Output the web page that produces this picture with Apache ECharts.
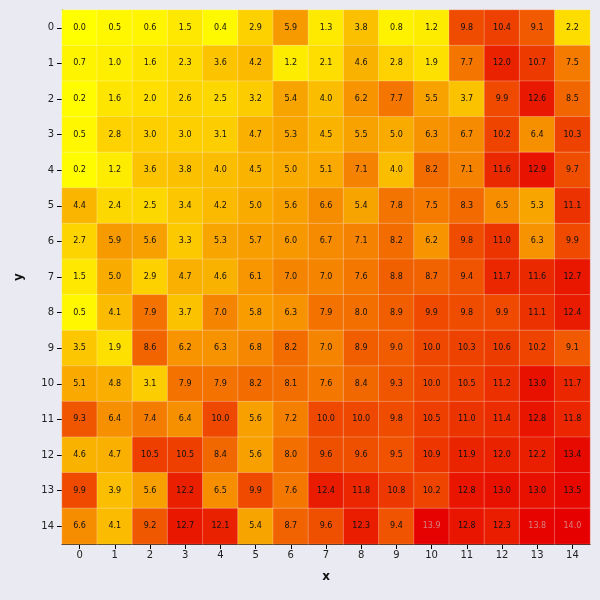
<!DOCTYPE html>
<html>
<head>
<meta charset="utf-8">
<script src="https://cdn.jsdelivr.net/npm/echarts@6/dist/echarts.min.js"></script>
<style>
    html, body { margin: 0; padding: 0; background: #eaeaf2; }
    #main { width: 600px; height: 600px; }
</style>
</head>
<body>
<div id="main"></div>
<script type="text/javascript">
    var xLabels = ['0','1','2','3','4','5','6','7','8','9','10','11','12','13','14'];
    var yLabels = ['0','1','2','3','4','5','6','7','8','9','10','11','12','13','14'];

    // one row per y value, columns follow x
    var row0  = [0.0, 0.5, 0.6, 1.5, 0.4, 2.9, 5.9, 1.3, 3.8, 0.8, 1.2, 9.8, 10.4, 9.1, 2.2];
    var row1  = [0.7, 1.0, 1.6, 2.3, 3.6, 4.2, 1.2, 2.1, 4.6, 2.8, 1.9, 7.7, 12.0, 10.7, 7.5];
    var row2  = [0.2, 1.6, 2.0, 2.6, 2.5, 3.2, 5.4, 4.0, 6.2, 7.7, 5.5, 3.7, 9.9, 12.6, 8.5];
    var row3  = [0.5, 2.8, 3.0, 3.0, 3.1, 4.7, 5.3, 4.5, 5.5, 5.0, 6.3, 6.7, 10.2, 6.4, 10.3];
    var row4  = [0.2, 1.2, 3.6, 3.8, 4.0, 4.5, 5.0, 5.1, 7.1, 4.0, 8.2, 7.1, 11.6, 12.9, 9.7];
    var row5  = [4.4, 2.4, 2.5, 3.4, 4.2, 5.0, 5.6, 6.6, 5.4, 7.8, 7.5, 8.3, 6.5, 5.3, 11.1];
    var row6  = [2.7, 5.9, 5.6, 3.3, 5.3, 5.7, 6.0, 6.7, 7.1, 8.2, 6.2, 9.8, 11.0, 6.3, 9.9];
    var row7  = [1.5, 5.0, 2.9, 4.7, 4.6, 6.1, 7.0, 7.0, 7.6, 8.8, 8.7, 9.4, 11.7, 11.6, 12.7];
    var row8  = [0.5, 4.1, 7.9, 3.7, 7.0, 5.8, 6.3, 7.9, 8.0, 8.9, 9.9, 9.8, 9.9, 11.1, 12.4];
    var row9  = [3.5, 1.9, 8.6, 6.2, 6.3, 6.8, 8.2, 7.0, 8.9, 9.0, 10.0, 10.3, 10.6, 10.2, 9.1];
    var row10 = [5.1, 4.8, 3.1, 7.9, 7.9, 8.2, 8.1, 7.6, 8.4, 9.3, 10.0, 10.5, 11.2, 13.0, 11.7];
    var row11 = [9.3, 6.4, 7.4, 6.4, 10.0, 5.6, 7.2, 10.0, 10.0, 9.8, 10.5, 11.0, 11.4, 12.8, 11.8];
    var row12 = [4.6, 4.7, 10.5, 10.5, 8.4, 5.6, 8.0, 9.6, 9.6, 9.5, 10.9, 11.9, 12.0, 12.2, 13.4];
    var row13 = [9.9, 3.9, 5.6, 12.2, 6.5, 9.9, 7.6, 12.4, 11.8, 10.8, 10.2, 12.8, 13.0, 13.0, 13.5];
    var row14 = [6.6, 4.1, 9.2, 12.7, 12.1, 5.4, 8.7, 9.6, 12.3, 9.4, 13.9, 12.8, 12.3, 13.8, 14.0];

    var rows = [row0, row1, row2, row3, row4, row5, row6, row7, row8, row9, row10, row11, row12, row13, row14];

    var cells = [];
    rows.forEach(function (row, yi) {
        row.forEach(function (v, xi) {
            var item = { value: [xi, yi, v] };
            if (v >= 13.8) {
                item.label = { color: '#d88080' };
            }
            cells.push(item);
        });
    });

    var chart = echarts.init(document.getElementById('main'));

    var option = {
        backgroundColor: '#eaeaf2',
        animation: false,
        grid: { left: 62, top: 10, width: 528, height: 534 },
        xAxis: {
            type: 'category',
            data: xLabels,
            name: 'x',
            nameLocation: 'middle',
            nameGap: 27,
            nameTextStyle: { fontFamily: 'DejaVu Sans', fontSize: 12, fontWeight: 'bold', color: '#111' },
            axisLine: { show: true, lineStyle: { color: '#000', width: 1 } },
            axisTick: { show: true, alignWithLabel: true, length: 5, lineStyle: { color: '#000' } },
            axisLabel: { fontFamily: 'DejaVu Sans', fontSize: 10, color: '#222', margin: 6 },
            splitLine: { show: false },
            splitArea: { show: false }
        },
        yAxis: {
            type: 'category',
            data: yLabels,
            inverse: true,
            name: 'y',
            nameLocation: 'middle',
            nameGap: 37,
            nameTextStyle: { fontFamily: 'DejaVu Sans', fontSize: 12, fontWeight: 'bold', color: '#111' },
            axisLine: { show: true, lineStyle: { color: '#000', width: 1 } },
            axisTick: { show: true, alignWithLabel: true, length: 5, lineStyle: { color: '#000' } },
            axisLabel: { fontFamily: 'DejaVu Sans', fontSize: 10, color: '#222', margin: 8 },
            splitLine: { show: false },
            splitArea: { show: false }
        },
        visualMap: {
            show: false,
            min: 0,
            max: 14,
            dimension: 2,
            inRange: {
                color: ['#ffff00', '#fdd200', '#f8a000', '#f26800', '#ec3000', '#e60000']
            }
        },
        series: [
            {
                type: 'heatmap',
                data: cells,
                label: {
                    show: true,
                    fontFamily: 'DejaVu Sans',
                    fontSize: 8,
                    color: '#111',
                    formatter: function (p) { return p.value[2].toFixed(1); }
                },
                itemStyle: {
                    borderColor: 'rgba(255,255,255,0.25)',
                    borderWidth: 1
                },
                emphasis: { disabled: true }
            }
        ]
    };

    chart.setOption(option);
</script>
</body>
</html>
